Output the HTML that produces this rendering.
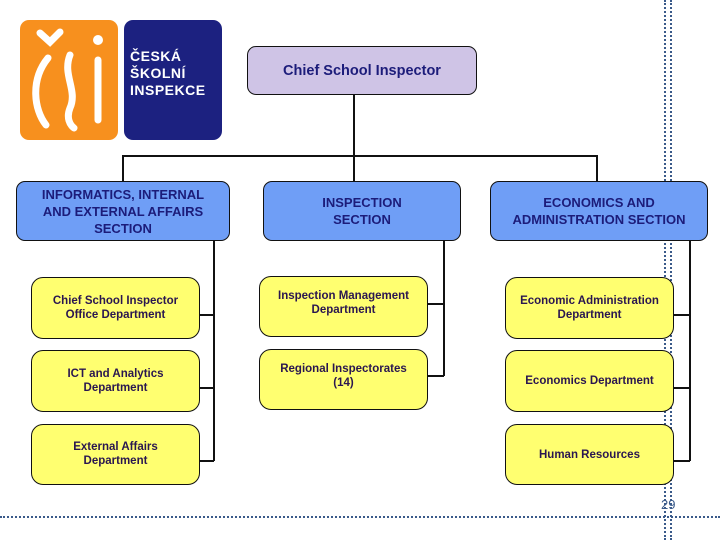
<!DOCTYPE html>
<html><head><meta charset="utf-8"><style>
body{margin:0;width:720px;height:540px;background:#fff;position:relative;overflow:hidden;font-family:"Liberation Sans",Arial,sans-serif;}
.b{position:absolute;box-sizing:border-box;border:1.5px solid #111;border-radius:9px;display:flex;align-items:center;justify-content:center;text-align:center;font-weight:bold;}
.s{background:#6f9ef6;color:#1c1c7a;font-size:13px;line-height:17px;}
.y{background:#ffff70;color:#2a1650;font-size:11.5px;line-height:14px;border-radius:12px;}
.l{position:absolute;background:#111;}
.dv{position:absolute;top:0;height:540px;width:0;border-left:2px dotted #3a5a8a;}
</style></head><body>
<div class="dv" style="left:664px"></div><div class="dv" style="left:670px"></div>
<div style="position:absolute;left:0;top:516px;width:720px;border-top:2px dotted #3a5a8a"></div>
<div style="position:absolute;left:661px;top:497px;font-size:13px;color:#3a5a8a">29</div>

<div style="position:absolute;left:20px;top:20px;width:98px;height:120px;background:#f7901e;border-radius:9px"></div>
<svg style="position:absolute;left:20px;top:20px" width="98" height="120"><g fill="none" stroke="#fff" stroke-width="7" stroke-linecap="round"><path d="M20 13 L30 22 L40 12"/><path d="M28 38 C10 60 14 90 26 105"/><path d="M50 35 C42 55 58 70 50 88 C46 98 50 105 54 108"/><path d="M78 40 L78 100"/></g><circle cx="78" cy="20" r="5" fill="#fff"/></svg>
<div style="position:absolute;left:124px;top:20px;width:98px;height:120px;background:#1c2180;border-radius:9px"></div>
<div style="position:absolute;left:130px;top:48px;color:#fff;font-weight:bold;font-size:14px;line-height:17px;letter-spacing:0.5px">ČESKÁ<br>ŠKOLNÍ<br>INSPEKCE</div>

<div class="b" style="left:247px;top:46px;width:230px;height:49px;background:#cfc4e6;color:#1c1c7a;font-size:14.5px">Chief School Inspector</div>

<div class="l" style="left:353px;top:95px;width:1.5px;height:86px"></div>
<div class="l" style="left:122px;top:155px;width:476px;height:1.5px"></div>
<div class="l" style="left:122px;top:155px;width:1.5px;height:26px"></div>
<div class="l" style="left:596px;top:155px;width:1.5px;height:26px"></div>

<div class="b s" style="left:16px;top:181px;width:214px;height:60px">INFORMATICS, INTERNAL<br>AND EXTERNAL AFFAIRS<br>SECTION</div>
<div class="b s" style="left:263px;top:181px;width:198px;height:60px">INSPECTION<br>SECTION</div>
<div class="b s" style="left:490px;top:181px;width:218px;height:60px">ECONOMICS AND<br>ADMINISTRATION SECTION</div>

<div class="l" style="left:213px;top:241px;width:1.5px;height:220px"></div>
<div class="l" style="left:200px;top:314px;width:14px;height:1.5px"></div>
<div class="l" style="left:200px;top:387px;width:14px;height:1.5px"></div>
<div class="l" style="left:200px;top:460px;width:14px;height:1.5px"></div>
<div class="l" style="left:443px;top:241px;width:1.5px;height:135px"></div>
<div class="l" style="left:428px;top:303px;width:16px;height:1.5px"></div>
<div class="l" style="left:428px;top:375px;width:16px;height:1.5px"></div>
<div class="l" style="left:689px;top:241px;width:1.5px;height:220px"></div>
<div class="l" style="left:674px;top:314px;width:16px;height:1.5px"></div>
<div class="l" style="left:674px;top:387px;width:16px;height:1.5px"></div>
<div class="l" style="left:674px;top:460px;width:16px;height:1.5px"></div>

<div class="b y" style="left:31px;top:277px;width:169px;height:62px">Chief School Inspector<br>Office Department</div>
<div class="b y" style="left:31px;top:350px;width:169px;height:62px">ICT and Analytics<br>Department</div>
<div class="b y" style="left:31px;top:424px;width:169px;height:61px;align-items:flex-start;padding-top:15px">External Affairs<br>Department</div>
<div class="b y" style="left:259px;top:276px;width:169px;height:61px;padding-bottom:8px">Inspection Management<br>Department</div>
<div class="b y" style="left:259px;top:349px;width:169px;height:61px;padding-bottom:8px">Regional Inspectorates<br>(14)</div>
<div class="b y" style="left:505px;top:277px;width:169px;height:62px">Economic Administration<br>Department</div>
<div class="b y" style="left:505px;top:350px;width:169px;height:62px">Economics Department</div>
<div class="b y" style="left:505px;top:424px;width:169px;height:61px">Human Resources</div>
</body></html>
